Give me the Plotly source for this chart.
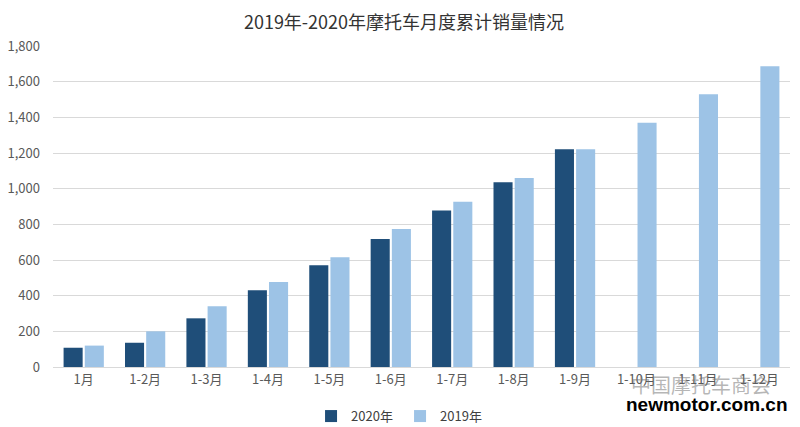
import plotly.graph_objects as go

# 月度累计销量（万辆）
months = ["1月", "1-2月", "1-3月", "1-4月", "1-5月", "1-6月",
          "1-7月", "1-8月", "1-9月", "1-10月", "1-11月", "1-12月"]
sales_2020 = [108, 136, 273, 430, 570, 718, 877, 1036, 1221, None, None, None]
sales_2019 = [120, 200, 340, 477, 615, 774, 927, 1060, 1221, 1370, 1529, 1686]
y_ticks = [0, 200, 400, 600, 800, 1000, 1200, 1400, 1600, 1800]

fig = go.Figure()
fig.add_trace(go.Bar(x=months, y=sales_2020, name="2020年",
                     marker=dict(color="#1F4E79", line=dict(width=0))))
fig.add_trace(go.Bar(x=months, y=sales_2019, name="2019年",
                     marker=dict(color="#9DC3E6", line=dict(width=0))))

# 水印
fig.add_annotation(text="中国摩托车商会", x=0.977, y=-0.056, xref="paper", yref="paper",
                   xanchor="right", yanchor="middle", showarrow=False,
                   font=dict(size=20, color="rgba(110,110,110,0.5)"))
fig.add_annotation(text="<b>newmotor.com.cn</b>", x=1.0, y=-0.118, xref="paper", yref="paper",
                   xanchor="right", yanchor="middle", showarrow=False,
                   font=dict(size=19, color="black", family="Liberation Sans, Arial"))

# 页面 body 自带 8px 边距，图形尺寸与边距相应缩减
fig.update_layout(
    width=792, height=419,
    margin=dict(l=45, r=10, t=38, b=60, autoexpand=False),
    plot_bgcolor="white",
    paper_bgcolor="white",
    barmode="group",
    bargap=0.31,
    bargroupgap=0.1,
    font=dict(family="Noto Sans CJK SC, sans-serif", size=12, color="#595959"),
    title=dict(text="2019年-2020年摩托车月度累计销量情况", x=0.5, xanchor="center",
               y=0.966, yanchor="middle", font=dict(size=18, color="#333333")),
    legend=dict(orientation="h", x=0.495, xref="container", xanchor="center",
                y=0.026, yanchor="middle", yref="container", entrywidth=44,
                itemwidth=30, font=dict(size=13, color="#404040"), traceorder="normal"),
    xaxis=dict(showgrid=False, showline=True, linecolor="#D9D9D9", ticks="",
               automargin=False, tickfont=dict(size=13, color="#595959")),
    yaxis=dict(range=[0, 1800], tickvals=y_ticks, tickformat=",", gridcolor="#D9D9D9",
               zeroline=False, automargin=False, ticklabelstandoff=12,
               tickfont=dict(size=13, color="#595959")),
)

fig.write_html("out.html")
